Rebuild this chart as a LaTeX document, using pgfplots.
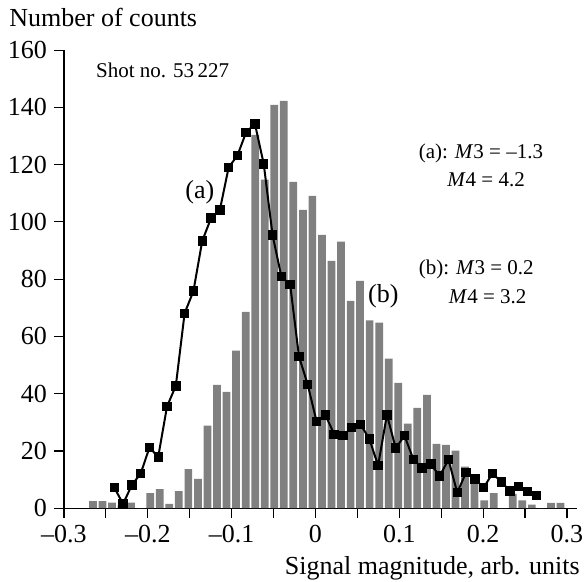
\documentclass[border=0pt]{standalone}
\usepackage{fontspec}
\setmainfont{Liberation Serif}
\usepackage{pgfplots}
\pgfplotsset{compat=1.18}
\definecolor{bargray}{RGB}{128,128,128}
\begin{document}
\begin{tikzpicture}
\begin{axis}[
  scale only axis, width=256.5pt, height=229pt,
  xmin=-0.3, xmax=0.312, ymin=0, ymax=160,
  axis lines=left, axis line style={-, line width=0.6pt},
  tick align=outside, major tick length=5pt, minor tick length=5pt,
  tick style={black, line width=0.6pt},
  xtick={-0.3,-0.2,-0.1,0,0.1,0.2,0.3},
  xticklabels={--0.3,--0.2,--0.1,0,0.1,0.2,0.3},
  minor xtick={-0.25,-0.15,-0.05,0.05,0.15,0.25},
  ytick={0,20,...,160},
  tick label style={font=\fontsize{13}{15}\selectfont},
  yticklabel style={/pgf/number format/assume math mode=true},
  clip=false,
]
\addplot[ybar, bar width=0.0092, fill=bargray, draw=none] coordinates {
(-0.2654,2.5) (-0.2540,2.5) (-0.2426,1.9) (-0.2313,1) (-0.2199,1.9)
(-0.2085,0) (-0.1971,5.3) (-0.1857,6.7) (-0.1744,1.5) (-0.1630,6.0)
(-0.1516,13.6) (-0.1402,10.2) (-0.1288,28.8) (-0.1175,43.1) (-0.1061,40.6)
(-0.0947,55.0) (-0.0833,68.6) (-0.0719,130.4) (-0.0606,114.8) (-0.0492,140.9)
(-0.0378,142.3) (-0.0264,114.0) (-0.0150,104.2) (-0.0037,109.1) (0.0077,95.5)
(0.0191,86.4) (0.0305,93.1) (0.0419,72.4) (0.0532,79.4) (0.0646,65.6)
(0.0760,64.8) (0.0874,52.2) (0.0988,43.8) (0.1101,29.5) (0.1215,35.0)
(0.1329,39.6) (0.1443,22.5) (0.1557,22.1) (0.1670,20.1) (0.1784,14.5)
(0.1898,11.6) (0.2012,2.7) (0.2126,5.3) (0.2239,0) (0.2353,5.0)
(0.2467,2.7) (0.2581,1.2) (0.2695,0) (0.2808,1.85) (0.2922,1.85)
};
\addplot[black, line width=1pt, mark=square*, mark size=1.85pt, mark options={solid}] coordinates {
(-0.2400,7.2) (-0.2295,1.5) (-0.2190,8.1) (-0.2085,12.1) (-0.1980,21.2)
(-0.1876,17.9) (-0.1771,35.5) (-0.1666,42.7) (-0.1561,68.1) (-0.1456,75.8)
(-0.1351,93.3) (-0.1246,101.3) (-0.1141,104.1) (-0.1036,119.0) (-0.0931,123.2)
(-0.0827,131.3) (-0.0722,134.2) (-0.0617,120.2) (-0.0512,95.4) (-0.0407,80.9)
(-0.0302,78.1) (-0.0197,53.0) (-0.0092,43.1) (0.0013,30.3) (0.0118,32.6)
(0.0223,25.8) (0.0328,25.3) (0.0432,28.2) (0.0537,29.3) (0.0642,24.2)
(0.0747,14.9) (0.0852,32.6) (0.0957,21.0) (0.1062,25.3) (0.1167,17.1)
(0.1272,14.0) (0.1376,15.4) (0.1481,11.2) (0.1586,17.0) (0.1691,5.4)
(0.1796,12.5) (0.1901,10.2) (0.2006,7.2) (0.2111,12.1) (0.2216,9.2)
(0.2321,6.0) (0.2425,7.5) (0.2530,5.9) (0.2635,4.4)
};
\node[anchor=base west, font=\fontsize{13}{15}\selectfont, inner sep=0pt]
  at ([xshift=-27.5pt, yshift=12pt] axis cs:-0.3,160) {Number of counts};
\node[anchor=base east, font=\fontsize{13}{15}\selectfont, inner sep=0pt]
  at ([xshift=6.5pt, yshift=-33pt] axis cs:0.3,0) {Signal magnitude, arb. units};
\node[anchor=base west, font=\fontsize{10.5}{12}\selectfont, inner sep=0pt]
  at (axis cs:-0.262,150.6) {Shot no. 53\,227};
\node[anchor=base, font=\fontsize{13}{15}\selectfont, inner sep=0pt]
  at (axis cs:-0.138,108) {(a)};
\node[anchor=base, font=\fontsize{13}{15}\selectfont, inner sep=0pt]
  at (axis cs:0.081,72) {(b)};
\node[anchor=base west, font=\fontsize{10.5}{12}\selectfont, inner sep=0pt]
  at (axis cs:0.1228,122.1) {(a): \textit{M}3 = --1.3};
\node[anchor=base west, font=\fontsize{10.5}{12}\selectfont, inner sep=0pt]
  at (axis cs:0.1567,112.5) {\textit{M}4 = 4.2};
\node[anchor=base west, font=\fontsize{10.5}{12}\selectfont, inner sep=0pt]
  at (axis cs:0.1228,81.7) {(b): \textit{M}3 = 0.2};
\node[anchor=base west, font=\fontsize{10.5}{12}\selectfont, inner sep=0pt]
  at (axis cs:0.1586,71.6) {\textit{M}4 = 3.2};
\coordinate (bl) at (axis cs:-0.3763,-25.5);
\coordinate (tr) at (axis cs:0.3203,177.5);
\end{axis}
\pgfresetboundingbox
\path[use as bounding box] (bl) rectangle (tr);
\end{tikzpicture}
\end{document}
